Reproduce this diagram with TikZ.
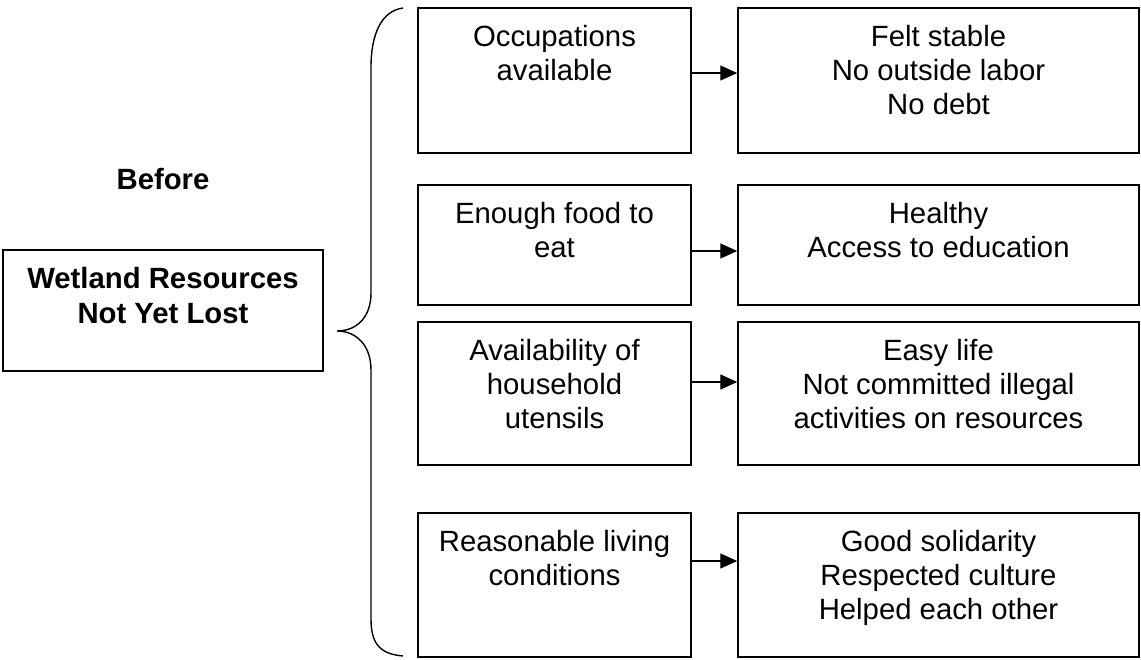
\documentclass[tikz,border=0pt]{standalone}
\usepackage{fontspec}
\setmainfont{Liberation Sans}
\usetikzlibrary{arrows.meta}
\begin{document}
\begin{tikzpicture}[x=1pt,y=-1pt,
  box/.style={draw, line width=1.5pt, inner sep=0pt, minimum width=#1},
  box/.default=273,
  txt/.style={anchor=north, inner sep=0pt, align=center, font=\fontsize{29.3}{34}\selectfont},
  btxt/.style={anchor=north, inner sep=0pt, align=center, font=\fontsize{29.3}{35}\selectfont\bfseries},
  arr/.style={line width=1.4pt, -{Triangle[length=17pt,width=15pt]}},
  brace/.style={line width=1.4pt}]
\useasboundingbox (0,0) rectangle (1141,659);
% left box
\node[box=320, minimum height=121] (src) at (163,310.5) {};
\node[btxt] (srct) at ([yshift=-17.5pt]src.north) {Wetland Resources\\Not Yet Lost};
\node[btxt, anchor=center] (before) at (163,179) {Before};
% brace
\draw[brace] (403,8) .. controls (381,11) and (371,35) .. (371,67) -- (371,293)
  .. controls (371,318) and (356,331) .. (337,331)
  .. controls (356,331) and (371,345) .. (371,370) -- (371,619)
  .. controls (371,645) and (381,654) .. (403,656);
% middle boxes
\node[box, minimum height=145] (m1) at (554.5,80.5) {};
\node[box, minimum height=120] (m2) at (554.5,245) {};
\node[box, minimum height=143] (m3) at (554.5,393.5) {};
\node[box, minimum height=144] (m4) at (554.5,585) {};
% right boxes
\node[box=401, minimum height=145] (r1) at (938.5,80.5) {};
\node[box=401, minimum height=120] (r2) at (938.5,245) {};
\node[box=401, minimum height=143] (r3) at (938.5,393.5) {};
\node[box=401, minimum height=144] (r4) at (938.5,585) {};
% texts
\node[txt] (m1t) at ([yshift=-17.5pt]m1.north) {Occupations\\available};
\node[txt] (m2t) at ([yshift=-17.5pt]m2.north) {Enough food to\\eat};
\node[txt] (m3t) at ([yshift=-17.5pt]m3.north) {Availability of\\household\\utensils};
\node[txt] (m4t) at ([yshift=-17.5pt]m4.north) {Reasonable living\\conditions};
\node[txt] (r1t) at ([yshift=-17.5pt]r1.north) {Felt stable\\No outside labor\\No debt};
\node[txt] (r2t) at ([yshift=-17.5pt]r2.north) {Healthy\\Access to education};
\node[txt] (r3t) at ([yshift=-17.5pt]r3.north) {Easy life\\Not committed illegal\\activities on resources};
\node[txt] (r4t) at ([yshift=-17.5pt]r4.north) {Good solidarity\\Respected culture\\Helped each other};
% arrows
\coordinate (a1) at (715,73);
\coordinate (a2) at (715,251);
\coordinate (a3) at (715,382);
\coordinate (a4) at (715,561);
\draw[arr] (m1.east |- a1) -- (r1.west |- a1);
\draw[arr] (m2.east |- a2) -- (r2.west |- a2);
\draw[arr] (m3.east |- a3) -- (r3.west |- a3);
\draw[arr] (m4.east |- a4) -- (r4.west |- a4);
\end{tikzpicture}
\end{document}
